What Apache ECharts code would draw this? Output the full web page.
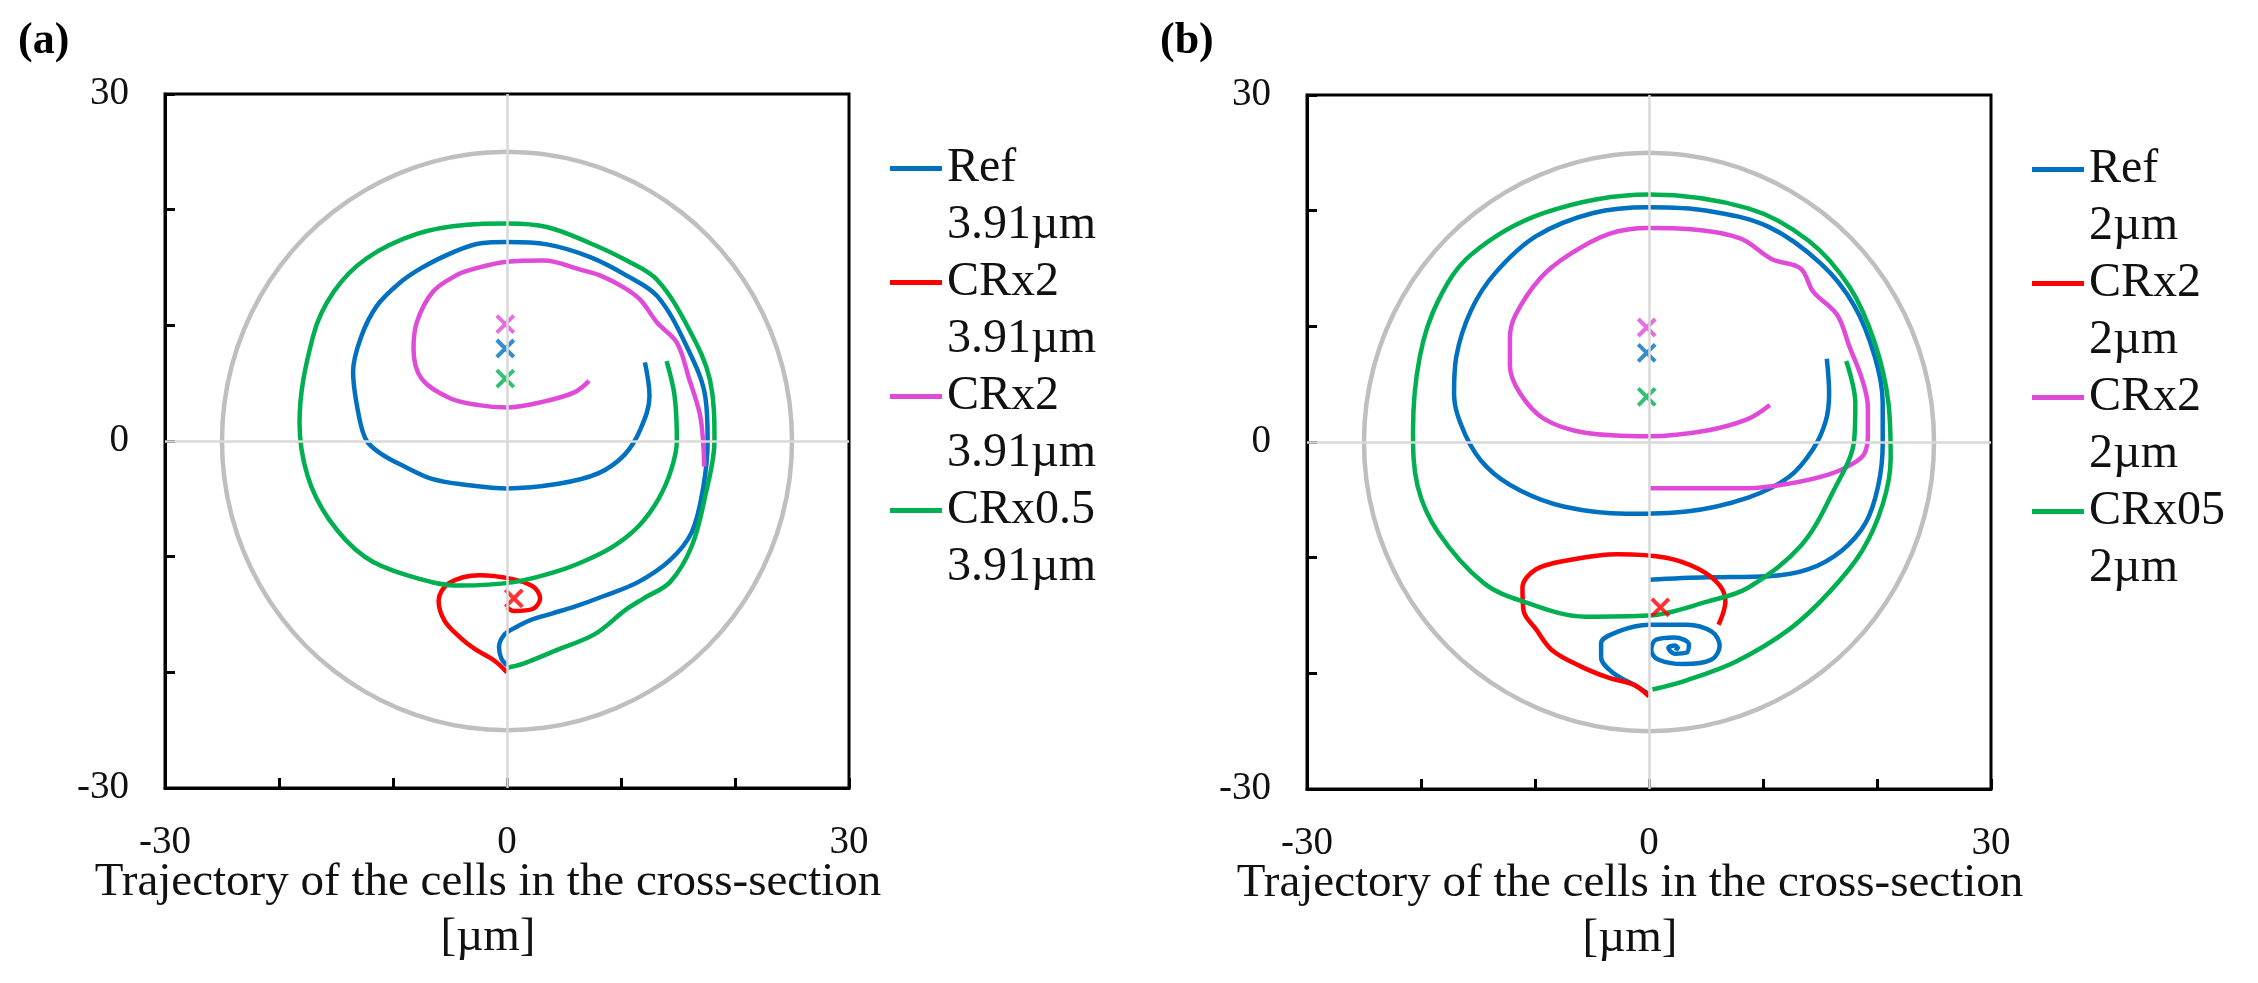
<!DOCTYPE html>
<html>
<head>
<meta charset="utf-8">
<script src="https://cdn.jsdelivr.net/npm/echarts@6/dist/echarts.min.js"></script>
<style>
  html, body { margin: 0; padding: 0; background: #fff; }
  #chart { width: 2258px; height: 983px; }
</style>
</head>
<body>
<div id="chart"></div>
<script>
// ---------------- data ----------------
const shownTicks = [-30, 0, 30];
const axisTitle = 'Trajectory of the cells in the cross-section\n[µm]';
const panelLabels = ['(a)', '(b)'];
const legendA = ['Ref\n3.91µm', 'CRx2\n3.91µm', 'CRx2\n3.91µm', 'CRx0.5\n3.91µm'];
const legendB = ['Ref\n2µm', 'CRx2\n2µm', 'CRx2\n2µm', 'CRx05\n2µm'];
const colors = ['#0070C0', '#FF0000', '#DF4BD8', '#00B050'];

// channel wall (radius ~25)
const wall = [[0,25],[3.26,24.79],[6.47,24.15],[9.57,23.1],[12.5,21.65],[15.22,19.83],[17.68,17.68],[19.83,15.22],[21.65,12.5],[23.1,9.57],[24.15,6.47],[24.79,3.26],
  [25,0],[24.79,-3.26],[24.15,-6.47],[23.1,-9.57],[21.65,-12.5],[19.83,-15.22],[17.68,-17.68],[15.22,-19.83],[12.5,-21.65],[9.57,-23.1],[6.47,-24.15],[3.26,-24.79],
  [0,-25],[-3.26,-24.79],[-6.47,-24.15],[-9.57,-23.1],[-12.5,-21.65],[-15.22,-19.83],[-17.68,-17.68],[-19.83,-15.22],[-21.65,-12.5],[-23.1,-9.57],[-24.15,-6.47],[-24.79,-3.26],
  [-25,0],[-24.79,3.26],[-24.15,6.47],[-23.1,9.57],[-21.65,12.5],[-19.83,15.22],[-17.68,17.68],[-15.22,19.83],[-12.5,21.65],[-9.57,23.1],[-6.47,24.15],[-3.26,24.79],[0,25]];

// panel (a)
const aRef = [[12.1,6.8],[12.5,3.9],[11.7,1],[10.3,-1.2],[8,-2.8],[4.5,-3.7],[0,-4.1],[-3.5,-3.8],[-6.5,-3.3],[-9,-2.2],[-10.9,-1.2],[-12.3,0],[-13,2.2],[-13.5,6],[-12.8,9],[-11.4,11.7],[-9.5,13.6],[-7.6,14.9],[-5,16.2],[-2.3,17.1],[0,17.2],[3.5,17.0],[7.3,15.9],[10.5,14.3],[13.2,12.5],[15.8,8.1],[17.4,3.8],[17.6,0],[17.2,-4.1],[16.2,-7.9],[14.3,-10.3],[11.5,-12.2],[8.5,-13.4],[6,-14.3],[4,-14.9],[2,-15.5],[0.6,-16.2],[-0.2,-16.7],[-0.7,-17.8],[-0.5,-18.8],[0,-19.4]];
const aCR2red = [[0,-20],[-1.1,-19],[-2.8,-18],[-4.1,-17],[-5.5,-15.5],[-6,-13.8],[-5.1,-12.3],[-2.4,-11.6],[0.3,-11.9],[2.3,-12.6],[2.9,-13.6],[2.3,-14.5],[0.6,-14.7],[0,-14.4]];
const aCR2mag = [[7.2,5.2],[5.9,4.2],[3.2,3.4],[0,2.9],[-2.5,3.1],[-5,3.7],[-7.5,5.4],[-8.2,8.0],[-7.9,10.3],[-6.5,12.9],[-4.5,14.3],[-3.2,14.8],[0,15.5],[3.2,15.6],[6.5,14.8],[8.2,14.3],[10.2,13.3],[11.7,12.2],[13.2,10.2],[14.9,8.5],[16,5.3],[16.9,2.4],[17.2,0],[17.3,-2.2]];
const aCR05 = [[14,6.9],[14.7,3.9],[14.9,0],[14.4,-2.5],[13.3,-5],[11.6,-7.3],[9.5,-9],[7.2,-10.2],[4.3,-11.3],[0.6,-12.2],[-4.1,-12.5],[-8.8,-11.6],[-12.5,-10],[-15.6,-6.8],[-17.5,-3],[-18.2,1.6],[-17,9.1],[-15.2,12.9],[-12.3,15.8],[-7.9,17.9],[-3.5,18.7],[0,18.8],[3.5,18.5],[7.3,17.1],[10.5,15.6],[13.2,13.9],[16,9.6],[17.8,5.3],[18.2,0],[17.4,-4.7],[16.2,-9.1],[14.3,-12.2],[12,-13.6],[10.4,-14.6],[7.7,-16.7],[4.3,-18.1],[1.3,-19.3],[0,-19.6]];
const aCentres = [[-0.15,8.0],[0.6,-13.6],[-0.15,10.1],[-0.15,5.4]];

// panel (b)
const bRef = [[0,-11.9],[5.1,-11.7],[10.5,-11.6],[14,-11],[16.9,-9.4],[19,-7],[20.1,-3.8],[20.5,-0.2],[20.5,3.4],[19.8,7.4],[18,11.8],[15.1,15.4],[10.5,18.6],[5.1,20],[0,20.3],[-4.9,19.8],[-9.9,17.8],[-13.5,14.6],[-15.6,11.4],[-16.9,7.4],[-17.1,4.2],[-16.1,0.6],[-14.2,-2.2],[-11.3,-4.2],[-7.4,-5.6],[-2,-6.2],[3.3,-6],[8.7,-4.8],[12.3,-3],[14.4,-0.6],[15.5,1.8],[15.8,4.2],[15.6,7.2]];
const bRefSpiral = [[0,-21.8],[-1.3,-21],[-3.1,-20],[-4.2,-18.6],[-4.2,-17.4],[-2.75,-16.4],[0,-15.8],[3.3,-15.8],[5.5,-16.4],[6.2,-17.6],[5.5,-18.8],[3,-19.2],[0.8,-18.8],[0.2,-18],[0.6,-17.1],[2.25,-16.9],[3.5,-17.5],[3.3,-18.2],[2.25,-18.3],[1.7,-17.8],[2.25,-17.6],[2.6,-17.9],[2.25,-17.8]];
const bCR2red = [[0,-22],[-1.3,-21],[-3.5,-20.4],[-6,-19.4],[-8.5,-18],[-9.9,-16.2],[-11,-14.6],[-11.1,-12.6],[-9.9,-11],[-7,-10.2],[-2.75,-9.7],[1.5,-10],[4.4,-11],[6.2,-12.4],[6.7,-13.8],[6.5,-14.8],[6.1,-15.8]];
const bCR2mag = [[10.6,3.2],[8.7,2],[5.1,1],[0,0.5],[-5.6,0.8],[-9.2,2],[-11.3,4.2],[-12.2,6.6],[-12.2,9],[-11.7,11],[-9.5,14.2],[-7,16.2],[-3.5,18],[0,18.5],[3.7,18.4],[8,17.6],[10.8,15.8],[13.3,15],[14.4,13],[16.5,11],[17.6,8.2],[18.7,5.4],[19.2,3],[19.2,0.6],[18.9,-1],[18,-1.8],[15.8,-2.8],[12.3,-3.6],[8.7,-4],[3.3,-4],[0,-4]];
const bCR05 = [[17.3,7],[18.1,3.4],[18,0.2],[16.2,-4.2],[13.3,-9],[8.7,-12.6],[5.1,-13.8],[0,-15],[-5.6,-15.1],[-11,-13.8],[-14.5,-12.2],[-18.5,-7.8],[-20.3,-3.8],[-20.7,1],[-20.1,7.4],[-18.5,12.2],[-15.6,16.2],[-9.2,19.8],[0,21.4],[8.7,20.2],[14,17.4],[17.6,13.4],[19.8,8.6],[21,3.4],[21.2,-1.4],[20.5,-5.4],[18.7,-9.4],[15.8,-13],[12.3,-16.2],[7.6,-19],[3.3,-20.6],[0.3,-21.4]];
const bCentres = [[-0.2,7.7],[1,-14.3],[-0.2,9.9],[-0.2,3.9]];

// ---------------- chart ----------------
const FONT = '"Liberation Serif", "DejaVu Serif", serif';
const chart = echarts.init(document.getElementById('chart'), null, { renderer: 'canvas' });

const grids = [
  { left: 165, top: 94, width: 684, height: 694 },
  { left: 1307, top: 95, width: 684, height: 694 }
];

function xAxis(gi) {
  return {
    gridIndex: gi, type: 'value', min: -30, max: 30, interval: 10,
    axisLine: { show: true, onZero: false, lineStyle: { color: '#000', width: 3 } },
    axisTick: { show: true, inside: true, length: 10, lineStyle: { color: '#000', width: 3 } },
    axisLabel: { margin: 35, fontSize: 39, fontFamily: FONT, color: '#111',
      formatter: v => shownTicks.includes(v) ? String(v) : '' },
    splitLine: { show: false },
    name: axisTitle, nameLocation: 'middle', nameGap: 67, nameMoveOverlap: false,
    nameTextStyle: { fontSize: 47, lineHeight: 55, fontFamily: FONT, color: '#111', padding: [0, 38, 0, 0] }
  };
}
function yAxis(gi) {
  return {
    gridIndex: gi, type: 'value', min: -30, max: 30, interval: 10,
    axisLine: { show: true, onZero: false, lineStyle: { color: '#000', width: 3 } },
    axisTick: { show: true, inside: true, length: 10, lineStyle: { color: '#000', width: 3 } },
    axisLabel: { margin: 36, fontSize: 39, fontFamily: FONT, color: '#111',
      formatter: v => shownTicks.includes(v) ? String(v) : '' },
    splitLine: { show: false }
  };
}

function wallSeries(gi) {
  return {
    name: 'wall' + gi, type: 'line', xAxisIndex: gi, yAxisIndex: gi, data: wall,
    smooth: 0.3, symbol: 'none', z: 1, silent: true,
    lineStyle: { color: '#BFBFBF', width: 4.5 },
    markLine: {
      silent: true, symbol: 'none', label: { show: false },
      lineStyle: { color: '#D9D9D9', width: 2.5, type: 'solid' },
      data: [{ xAxis: 0 }, { yAxis: 0 }]
    }
  };
}
function trace(name, data, color, gi) {
  return {
    name, type: 'line', xAxisIndex: gi, yAxisIndex: gi, data, smooth: 0.35,
    symbol: 'none', color, z: 3,
    lineStyle: { color, width: 4.5 }, itemStyle: { color }
  };
}
function centres(name, data, gi) {
  return {
    name, type: 'scatter', xAxisIndex: gi, yAxisIndex: gi, z: 4,
    symbol: 'path://M0,0L10,10M10,0L0,10', symbolSize: 17,
    data: data.map((p, i) => ({ value: p, itemStyle: { color: 'rgba(0,0,0,0)', borderColor: colors[i], borderWidth: 4 } }))
  };
}

const namesA = ['aRef', 'aCR2r', 'aCR2m', 'aCR05'];
const namesB = ['bRef', 'bCR2r', 'bCR2m', 'bCR05'];
const labelMap = {};
namesA.forEach((n, i) => labelMap[n] = legendA[i]);
namesB.forEach((n, i) => labelMap[n] = legendB[i]);

const LH = 57;
const IW = 52;
const legendIcon = 'path://M0,0h0.02v0.02h-0.02z M0,' + (LH / 2 - 2.5) + 'h' + IW + 'v5h-' + IW + 'z M0,' + (2 * LH - 0.02) + 'h0.02v0.02h-0.02z';
function legend(left, top, data) {
  return {
    orient: 'vertical', left, top, padding: 0, itemGap: 0,
    itemWidth: IW, itemHeight: 2 * LH, icon: legendIcon, data,
    selectedMode: false,
    itemStyle: { borderWidth: 0 },
    formatter: n => labelMap[n],
    textStyle: { fontSize: 48, lineHeight: LH, fontFamily: FONT, color: '#111', padding: [0, 0, 0, 0] }
  };
}

const option = {
  animation: false,
  backgroundColor: '#fff',
  title: [
    { text: panelLabels[0], left: 18, top: 20, padding: 0, textStyle: { fontSize: 44, fontWeight: 'bold', fontFamily: FONT, color: '#000' } },
    { text: panelLabels[1], left: 1160, top: 20, padding: 0, textStyle: { fontSize: 44, fontWeight: 'bold', fontFamily: FONT, color: '#000' } }
  ],
  grid: grids.map(g => Object.assign({ show: true, borderColor: '#000', borderWidth: 3, backgroundColor: 'transparent' }, g)),
  xAxis: [xAxis(0), xAxis(1)],
  yAxis: [yAxis(0), yAxis(1)],
  legend: [legend(890, 140, namesA), legend(2032, 141, namesB)],
  series: [
    wallSeries(0),
    trace('aRef', aRef, colors[0], 0),
    trace('aCR2r', aCR2red, colors[1], 0),
    trace('aCR2m', aCR2mag, colors[2], 0),
    trace('aCR05', aCR05, colors[3], 0),
    centres('aCentres', aCentres, 0),
    wallSeries(1),
    trace('bRef', bRef, colors[0], 1),
    trace('bRefSpiral', bRefSpiral, colors[0], 1),
    trace('bCR2r', bCR2red, colors[1], 1),
    trace('bCR2m', bCR2mag, colors[2], 1),
    trace('bCR05', bCR05, colors[3], 1),
    centres('bCentres', bCentres, 1)
  ]
};
chart.setOption(option);
</script>
</body>
</html>
